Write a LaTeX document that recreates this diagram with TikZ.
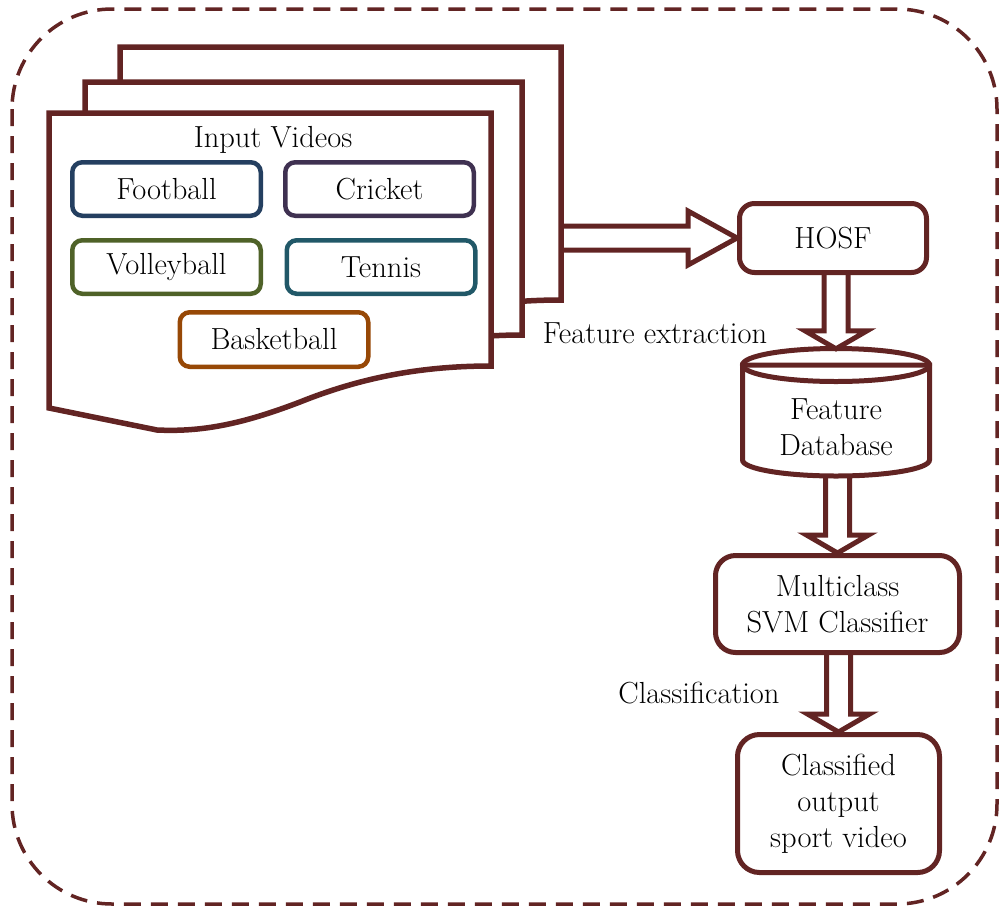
\documentclass[tikz,border=0pt]{standalone}
\usetikzlibrary{calc}
\definecolor{mred}{HTML}{622423}
\definecolor{cfoot}{HTML}{243F60}
\definecolor{ccric}{HTML}{3F3151}
\definecolor{cvoll}{HTML}{4F6228}
\definecolor{cten}{HTML}{215868}
\definecolor{cbask}{HTML}{974806}
\newcommand\fs{\fontsize{30.5}{36}\selectfont}
\newcommand\fatdown[2]{\draw[fat] let \p1=(#1), \p2=(#2) in
  (\x2-12pt,\y1) -- (\x2-12pt,\y2+18pt) -- (\x2-31pt,\y2+18pt) -- (\x2,\y2)
  -- (\x2+31pt,\y2+18pt) -- (\x2+12pt,\y2+18pt) -- (\x2+12pt,\y1);}
\newcommand\fatright[2]{\draw[fat] let \p1=(#1), \p2=(#2) in
  (\x1,\y2+12pt) -- (\x2-49pt,\y2+12pt) -- (\x2-49pt,\y2+27pt) -- (\x2,\y2)
  -- (\x2-49pt,\y2-27pt) -- (\x2-49pt,\y2-12pt) -- (\x1,\y2-12pt);}
\begin{document}
\begin{tikzpicture}[x=1pt,y=-1pt,line join=miter,
  box/.style={draw=mred,line width=5pt,rounded corners=15pt,fill=white,align=center,inner sep=0pt,font=\fs},
  sport/.style={draw=#1,line width=4.5pt,rounded corners=10pt,minimum width=188.5pt,minimum height=53.5pt,inner sep=0pt,font=\fs},
  lbl/.style={font=\fs,inner sep=0pt,anchor=base},
  fat/.style={draw=mred,line width=5pt,line join=miter},
  page/.style={draw=mred,line width=5.5pt,fill=white}]
\useasboundingbox (0,0) rectangle (999,906);
% outer dashed frame
\draw[mred,line width=3.5pt,dash pattern=on 17pt off 10pt,rounded corners=100pt] (12,9) rectangle (997,904);
% stacked pages
\path[page] (120,47) -- (561,47) -- (561,300) .. controls (490,300) and (431,312) .. (371,336)
  .. controls (311,359) and (271,366) .. (228,364) -- (120,342) -- cycle;
\path[page] (85,82) -- (522,82) -- (522,335) .. controls (456,335) and (396,347) .. (336,371)
  .. controls (276,394) and (236,401) .. (193,399) -- (85,377) -- cycle;
\path[page] (49,113) -- (491,113) -- (491,366) .. controls (420,366) and (360,378) .. (300,402)
  .. controls (240,425) and (200,432) .. (157,430) -- (49,408) -- cycle;
\node[lbl] (inlbl) at (273,147) {Input Videos};
\node[sport=cfoot] (foot) at (166.5,189) {Football};
\node[sport=ccric] (cric) at (379.5,189) {Cricket};
\node[sport=cvoll] (voll) at (166.5,267) {Volleyball};
\node[sport=cten] (ten) at (381,267) {Tennis};
\node[sport=cbask,minimum height=54.5pt] (bask) at (274,339.5) {Basketball};
% right column
\node[box,minimum width=187pt,minimum height=69pt] (hosf) at (833,238) {\raisebox{-5pt}{HOSF}};
% cylinder
\path[draw=mred,line width=5pt,fill=white] (742.5,365) -- (742.5,460)
  .. controls (742.5,468.8) and (784.4,476) .. (836,476)
  .. controls (887.6,476) and (929.5,468.8) .. (929.5,460) -- (929.5,365) -- cycle;
\draw[mred,line width=5pt] (836,365) ellipse [x radius=93.5, y radius=16.5];
\node[minimum width=187pt,minimum height=127pt,inner sep=0pt,font=\fs] (db) at (836,412.5)
  {\raisebox{-24pt}[0pt][0pt]{\begin{tabular}{@{}c@{}}Feature\\Database\end{tabular}}};
\node[box,rounded corners=20pt,minimum width=244pt,minimum height=97pt] (svm) at (837.5,604) {Multiclass\\SVM Classifier};
\node[box,rounded corners=22pt,minimum width=202pt,minimum height=138pt] (out) at (838.5,803.5) {Classified\\output\\sport video};
% arrows
\coordinate (pr) at (561,238);
\fatright{pr}{hosf.west}
\fatdown{hosf.south}{db.north}
\fatdown{db.south}{svm.north}
\fatdown{svm.south}{out.north}
\node[lbl] (fe) at (655,343) {Feature extraction};
\node[lbl] (cl) at (699,703) {Classification};
\end{tikzpicture}
\end{document}
